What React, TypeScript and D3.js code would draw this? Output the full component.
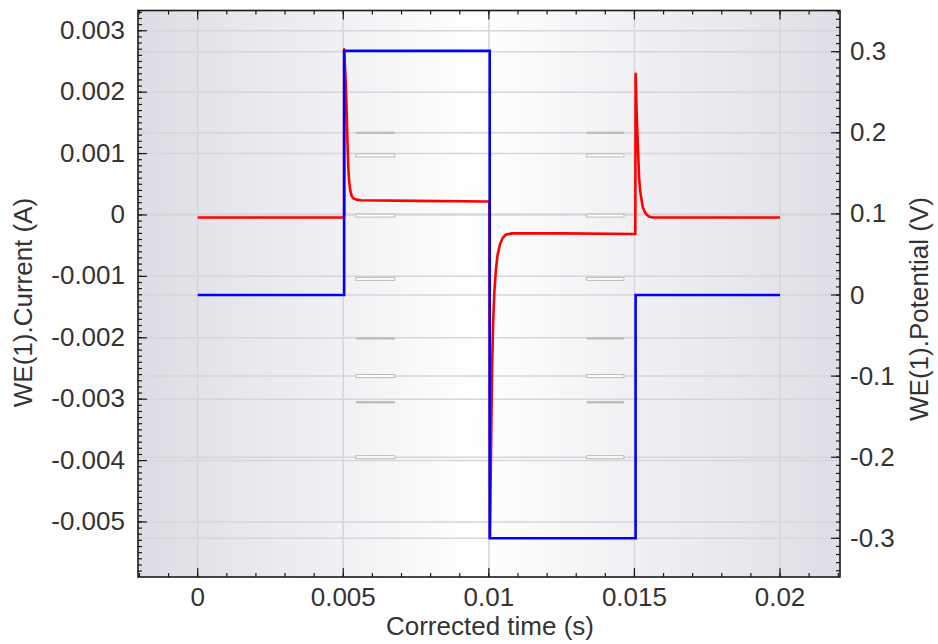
import React from 'react';
import * as d3 from 'd3';

// time axis ticks (s)
const timeTicks = [0, 0.005, 0.01, 0.015, 0.02];
// left axis ticks (A)
const currentTicks = [-0.005, -0.004, -0.003, -0.002, -0.001, 0, 0.001, 0.002, 0.003];
// right axis ticks (V)
const potentialTicks = [-0.3, -0.2, -0.1, 0, 0.1, 0.2, 0.3];

// WE(1).Current, red
const currentTime = [
  0, 0.0025, 0.00503, 0.00503, 0.00508, 0.00511, 0.00514, 0.00517, 0.0052, 0.00524,
  0.00529, 0.00535, 0.00545, 0.0056, 0.0075, 0.01002, 0.01004, 0.01007, 0.01011, 0.01015,
  0.01019, 0.01024, 0.0103, 0.01038, 0.01047, 0.01058, 0.0108, 0.0125, 0.01503, 0.01504,
  0.01508, 0.01511, 0.01516, 0.0152, 0.01528, 0.01535, 0.01543, 0.01552, 0.01563, 0.0175, 0.02,
];
const currentValues = [
  -0.00004, -0.00004, -0.00004, 0.0027, 0.0022, 0.0018, 0.00125, 0.0008, 0.00055, 0.0004,
  0.00031, 0.00027, 0.00025, 0.00024, 0.00023, 0.00022, -0.00525, -0.004, -0.0025, -0.0017,
  -0.00125, -0.0009, -0.00065, -0.00048, -0.00038, -0.00032, -0.0003, -0.0003, -0.00031, 0.0023,
  0.0016, 0.00122, 0.0006, 0.00038, 0.00014, 0.00005, 0.0, -0.00003, -0.00004, -0.00004, -0.00004,
];

// WE(1).Potential, blue
const potentialTime = [0, 0.00503, 0.00503, 0.01003, 0.01003, 0.01504, 0.01504, 0.02];
const potentialValues = [0, 0, 0.301, 0.301, -0.3, -0.3, 0, 0];

// small grey marks inside the plot
const markSpans = [[0.00543, 0.00677], [0.01336, 0.01464]];
const markLevels = [
  { axis: 'R', v: 0.2, hollow: false },
  { axis: 'L', v: 0.00097, hollow: true },
  { axis: 'L', v: -0.00001, hollow: true },
  { axis: 'L', v: -0.00104, hollow: true },
  { axis: 'L', v: -0.00201, hollow: false },
  { axis: 'R', v: -0.1, hollow: true },
  { axis: 'L', v: -0.00305, hollow: false },
  { axis: 'R', v: -0.2, hollow: true },
];

const W = 938, H = 644;
const left = 138, right = 840, top = 10.5, bottom = 577;
const font = '"Liberation Sans", Arial, sans-serif';
const fmt = (v: number) => String(+v.toFixed(4));

export default function App() {
  const x = d3.scaleLinear().domain([-0.00205, 0.02206]).range([left, right]);
  const yL = d3.scaleLinear().domain([-0.005896, 0.00333]).range([bottom, top]);
  const yR = d3.scaleLinear().domain([-0.3477, 0.3508]).range([bottom, top]);

  const redLine = d3.line<number>().x((d, i) => x(currentTime[i])).y(d => yL(d));
  const blueLine = d3.line<number>().x((d, i) => x(potentialTime[i])).y(d => yR(d));

  const xMinor = d3.range(-0.002, 0.0221, 0.001).filter(v => x(v) >= left && x(v) <= right);
  const lMinor = d3.range(-0.0059, 0.00335, 0.0001).filter(v => yL(v) >= top && yL(v) <= bottom);
  const rMinor = d3.range(-0.34, 0.351, 0.01).filter(v => yR(v) >= top && yR(v) <= bottom);

  const grid = '#d6d6da';
  const tickCol = '#1a1a1a';

  return (
    <svg width={W} height={H} style={{ position: 'absolute', left: 0, top: 0 }} fontFamily={font}>
      <defs>
        <linearGradient id="bg" x1="0" x2="1" y1="0" y2="0">
          <stop offset="0%" stopColor="#dcdce4" />
          <stop offset="48%" stopColor="#ffffff" />
          <stop offset="100%" stopColor="#dedee6" />
        </linearGradient>
        <clipPath id="clip">
          <rect x={left} y={top} width={right - left} height={bottom - top} />
        </clipPath>
      </defs>
      <rect width={W} height={H} fill="#fff" />
      <rect x={left} y={top} width={right - left} height={bottom - top} fill="url(#bg)" />

      {/* grid */}
      {timeTicks.map(t => (
        <line key={'gx' + t} x1={x(t)} x2={x(t)} y1={top} y2={bottom} stroke={grid} strokeWidth={1.5} />
      ))}
      {currentTicks.map(v => (
        <line key={'gl' + v} x1={left} x2={right} y1={yL(v)} y2={yL(v)} stroke={grid} strokeWidth={1.5} />
      ))}
      {potentialTicks.map(v => (
        <line key={'gr' + v} x1={left} x2={right} y1={yR(v)} y2={yR(v)} stroke={grid} strokeWidth={1.5} />
      ))}

      {/* grey marks */}
      {markSpans.map(([a, b], si) =>
        markLevels.map((m, mi) => {
          const yy = m.axis === 'L' ? yL(m.v) : yR(m.v);
          return m.hollow ? (
            <rect key={si + '-' + mi} x={x(a)} y={yy - 1.5} width={x(b) - x(a)} height={3}
              fill="#fff" stroke="#b2b2b2" strokeWidth={0.9} />
          ) : (
            <rect key={si + '-' + mi} x={x(a)} y={yy - 1.2} width={x(b) - x(a)} height={2.4} fill="#bdbdbd" />
          );
        })
      )}

      <g clipPath="url(#clip)">
        <path d={redLine(currentValues) || ''} fill="none" stroke="#ff0000" strokeWidth={2.6} strokeLinejoin="round" />
        <path d={blueLine(potentialValues) || ''} fill="none" stroke="#0000ff" strokeWidth={2.6} strokeLinejoin="miter" />
      </g>

      {/* ticks */}
      <g stroke={tickCol} strokeWidth={1.2}>
        {xMinor.map(t => (
          <g key={'xm' + t}>
            <line x1={x(t)} x2={x(t)} y1={bottom} y2={bottom - 4} />
            <line x1={x(t)} x2={x(t)} y1={top} y2={top + 4} />
          </g>
        ))}
        {timeTicks.map(t => (
          <g key={'xt' + t}>
            <line x1={x(t)} x2={x(t)} y1={bottom} y2={bottom - 9} />
            <line x1={x(t)} x2={x(t)} y1={top} y2={top + 9} />
          </g>
        ))}
        {lMinor.map(v => <line key={'lm' + v} x1={left} x2={left + 4} y1={yL(v)} y2={yL(v)} />)}
        {currentTicks.map(v => <line key={'lt' + v} x1={left} x2={left + 9} y1={yL(v)} y2={yL(v)} />)}
        {rMinor.map(v => <line key={'rm' + v} x1={right} x2={right - 4} y1={yR(v)} y2={yR(v)} />)}
        {potentialTicks.map(v => <line key={'rt' + v} x1={right} x2={right - 9} y1={yR(v)} y2={yR(v)} />)}
      </g>

      {/* frame */}
      <rect x={left} y={top} width={right - left} height={bottom - top} fill="none" stroke={tickCol} strokeWidth={1.6} />

      {/* tick labels */}
      <g fontSize={26} fill="#333">
        {timeTicks.map(t => (
          <text key={'xl' + t} x={x(t)} y={606} textAnchor="middle">{fmt(t)}</text>
        ))}
        {currentTicks.map(v => (
          <text key={'ll' + v} x={125} y={yL(v) + 8} textAnchor="end">{fmt(v)}</text>
        ))}
        {potentialTicks.map(v => (
          <text key={'rl' + v} x={850} y={yR(v) + 8.5} textAnchor="start">{fmt(v)}</text>
        ))}
      </g>

      {/* axis titles */}
      <g fontSize={26} fill="#333">
        <text x={(left + right) / 2 + 1} y={635} textAnchor="middle">Corrected time (s)</text>
        <text transform="translate(31.5,302.5) rotate(-90)" textAnchor="middle">WE(1).Current (A)</text>
        <text transform="translate(928,309) rotate(-90)" textAnchor="middle">WE(1).Potential (V)</text>
      </g>
    </svg>
  );
}
